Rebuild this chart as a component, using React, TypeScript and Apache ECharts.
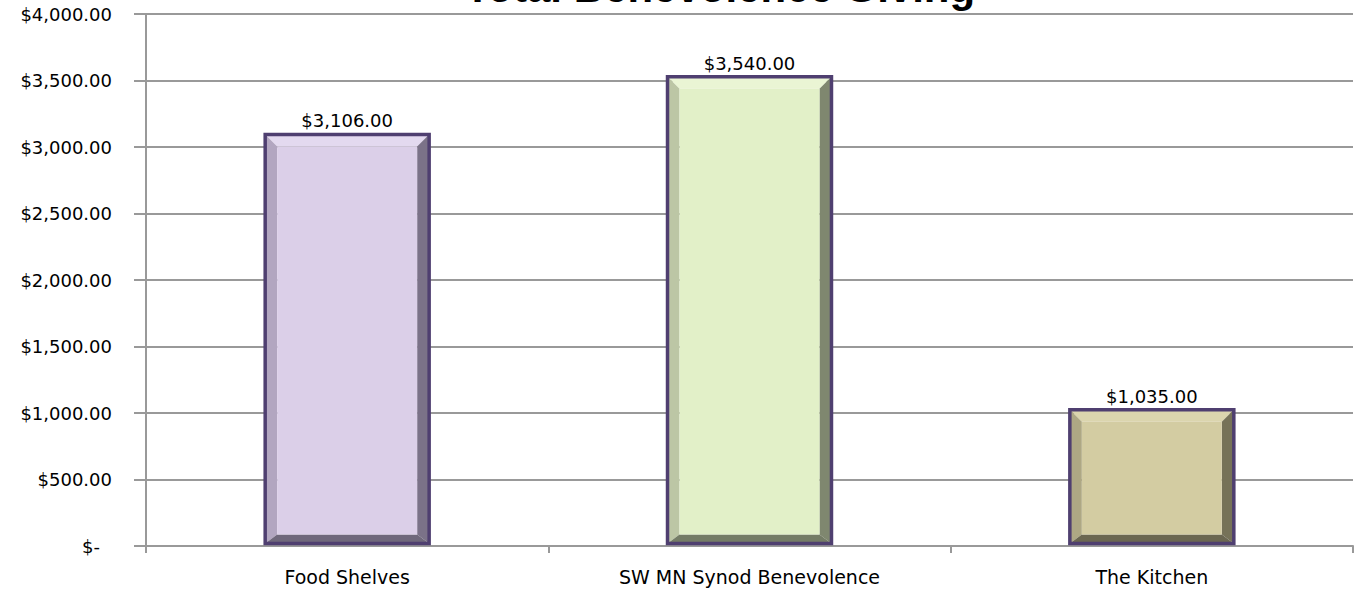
import React, { useEffect, useRef } from "react";
import * as echarts from "echarts";

const categories = ["Food Shelves", "SW MN Synod Benevolence", "The Kitchen"];
const amounts = [3106, 3540, 1035];
const yTicks = { min: 0, max: 4000, interval: 500 };
const titleText = "Total Benevolence Giving";

// bevel palettes: [face, top, left, right, bottom]
const palettes = [
  ["#dbcfe8", "#e3d9ef", "#b2a6c0", "#7b7288", "#6f687b"],
  ["#e2f0c8", "#eaf5d4", "#bcc6a5", "#7f876f", "#747c66"],
  ["#d3cca2", "#dbd5ae", "#aea884", "#767258", "#6b6751"],
];

const money = (v: number) =>
  "$" + v.toLocaleString("en-US", { minimumFractionDigits: 2, maximumFractionDigits: 2 });

export default function App() {
  const ref = useRef<HTMLDivElement>(null);
  useEffect(() => {
    document.body.style.margin = "0";
    const chart = echarts.init(ref.current!, null, { renderer: "svg" });
    const font = "DejaVu Sans";
    chart.setOption({
      animation: false,
      backgroundColor: "#ffffff",
      grid: { left: 146, right: 3, top: 14, bottom: 44 },
      graphic: [
        {
          type: "text",
          x: 720,
          y: 8,
          z: 0,
          style: {
            text: titleText,
            fontFamily: "Liberation Sans",
            fontWeight: "bold",
            fontSize: 42,
            fill: "#000",
            align: "center",
            verticalAlign: "bottom",
          },
        },
      ],
      xAxis: {
        type: "category",
        data: categories,
        axisLine: { lineStyle: { color: "#999", width: 2 } },
        axisTick: { show: true, length: 7, lineStyle: { color: "#999", width: 2 } },
        axisLabel: { color: "#000", fontFamily: font, fontSize: 19, margin: 21 },
      },
      yAxis: {
        type: "value",
        min: yTicks.min,
        max: yTicks.max,
        interval: yTicks.interval,
        axisLine: { show: true, lineStyle: { color: "#999", width: 2 } },
        axisTick: { show: true, length: 12, lineStyle: { color: "#999", width: 2 } },
        splitLine: { lineStyle: { color: "#999", width: 2 } },
        axisLabel: {
          color: "#000",
          fontFamily: font,
          fontSize: 18,
          margin: 34,
          formatter: (v: number) => (v === 0 ? "{z|$-}" : money(v)),
          rich: { z: { fontFamily: font, fontSize: 18, color: "#000", padding: [0, 12, 0, 0] } },
        },
      },
      series: [
        {
          type: "custom",
          data: amounts.map((v, i) => [i, v]),
          encode: { x: 0, y: 1 },
          renderItem: (params: any, api: any) => {
            const i = api.value(0);
            const v = api.value(1);
            const top = api.coord([i, v]);
            const base = api.coord([i, 0]);
            const w = api.size([1, 0])[0] * 0.415;
            const x0 = top[0] - w / 2;
            const x1 = top[0] + w / 2;
            const y0 = top[1];
            const y1 = base[1] - 1;
            const bw = 1.5;
            const ox0 = x0 + bw, ox1 = x1 - bw, oy0 = y0 + bw, oy1 = y1 - bw;
            const bs = 12;
            const bb = 9;
            const ix0 = ox0 + bs, ix1 = ox1 - bs, iy0 = oy0 + bs, iy1 = oy1 - bb;
            const p = palettes[i % palettes.length];
            return {
              type: "group",
              children: [
                { type: "polygon", shape: { points: [[ox0, oy0], [ox1, oy0], [ix1, iy0], [ix0, iy0]] }, style: { fill: p[1] } },
                { type: "polygon", shape: { points: [[ox0, oy0], [ix0, iy0], [ix0, iy1], [ox0, oy1]] }, style: { fill: p[2] } },
                { type: "polygon", shape: { points: [[ox1, oy0], [ox1, oy1], [ix1, iy1], [ix1, iy0]] }, style: { fill: p[3] } },
                { type: "polygon", shape: { points: [[ox0, oy1], [ox1, oy1], [ix1, iy1], [ix0, iy1]] }, style: { fill: p[4] } },
                { type: "rect", shape: { x: ix0, y: iy0, width: ix1 - ix0, height: iy1 - iy0 }, style: { fill: p[0] } },
                { type: "rect", shape: { x: ox0, y: oy0, width: ox1 - ox0, height: oy1 - oy0 }, style: { fill: "none", stroke: "#4f3f70", lineWidth: 3.5 } },
                {
                  type: "text",
                  style: {
                    text: money(v),
                    x: top[0],
                    y: y0 - 3,
                    align: "center",
                    verticalAlign: "bottom",
                    fontFamily: font,
                    fontSize: 18,
                    fill: "#000",
                  },
                },
              ],
            };
          },
        },
      ],
    });
    return () => chart.dispose();
  }, []);
  return (
    <div
      ref={ref}
      style={{ position: "fixed", left: 0, top: 0, width: 1356, height: 590 }}
    />
  );
}
